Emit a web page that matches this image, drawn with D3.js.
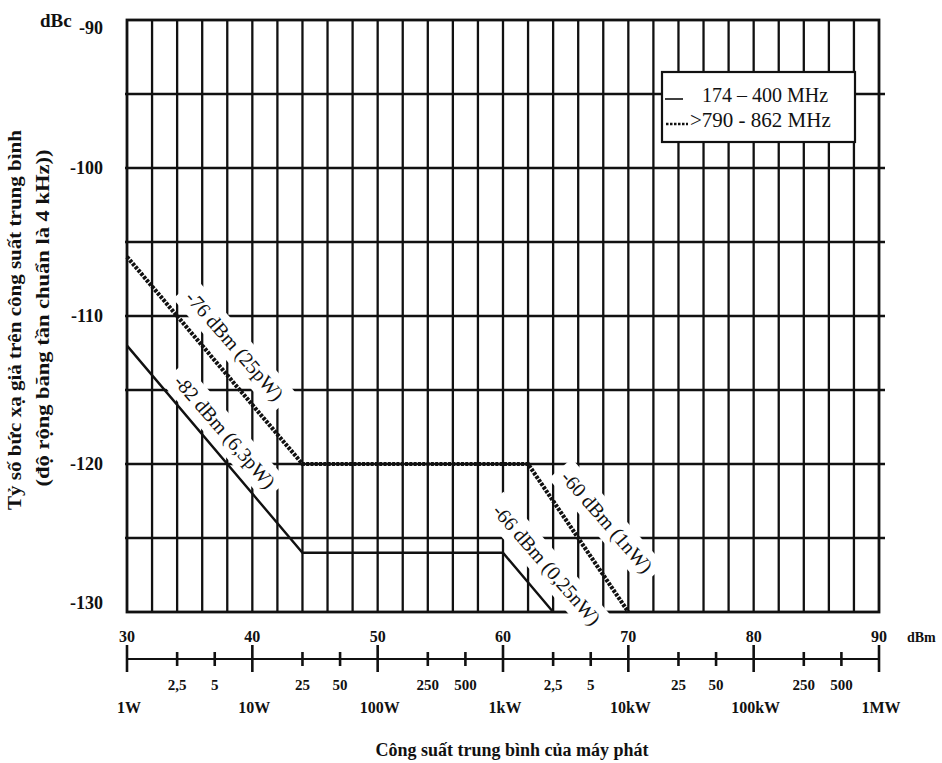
<!DOCTYPE html>
<html><head><meta charset="utf-8">
<script src="https://cdn.jsdelivr.net/npm/d3@7"></script>
<style>
body{margin:0;background:#fff}
text{font-family:"Liberation Serif","Times New Roman",serif;fill:#111}
</style>
</head><body>
<svg id="c" width="942" height="763"></svg>
<script>
// ---- data ----
const xTickValues = [30, 40, 50, 60, 70, 80, 90];
const yTickValues = [-90, -100, -110, -120, -130];
const powerTickDbm = [34, 37, 44, 47, 54, 57, 64, 67, 74, 77, 84, 87];
const powerTickLabels = ["2,5", "5", "25", "50", "250", "500", "2,5", "5", "25", "50", "250", "500"];
const decadeLabels = ["1W", "10W", "100W", "1kW", "10kW", "100kW", "1MW"];
const seriesNames = ["174 – 400 MHz", ">790 - 862 MHz"];
const vhfDbm = [30, 44, 60, 64];
const vhfDbc = [-112, -126, -126, -130];
const uhfDbm = [30, 44, 62, 70];
const uhfDbc = [-106, -120, -120, -130];
const limitLabels = ["-76 dBm (25pW)", "-82 dBm (6,3pW)", "-60 dBm (1nW)", "-66 dBm (0,25nW)"];
const limitLabelDbm = [38.6, 37.8, 68.3, 63.5];
const limitLabelDbc = [-112.0, -117.8, -123.9, -126.8];

// ---- layout ----
const svg = d3.select("#c");
const L = 127, R = 879, T = 20, B = 612;
const x = d3.scaleLinear().domain([30, 90]).range([L, R]);
const y = d3.scaleLinear().domain([-90, -130]).range([T, B]);
const ink = "#111";

// grid
const grid = svg.append("g");
grid.selectAll("line.v").data(d3.range(32, 90, 2)).join("line")
  .attr("x1", d => x(d)).attr("x2", d => x(d)).attr("y1", T).attr("y2", B)
  .attr("stroke", ink).attr("stroke-width", 2.3);
grid.selectAll("line.h").data(d3.range(-95, -129, -5)).join("line")
  .attr("x1", L - 2).attr("x2", R + 6).attr("y1", d => y(d)).attr("y2", d => y(d))
  .attr("stroke", ink).attr("stroke-width", 2.3);
// frame
svg.append("rect").attr("x", L).attr("y", T).attr("width", R - L).attr("height", B - T)
  .attr("fill", "none").attr("stroke", ink).attr("stroke-width", 2.8);

// label backgrounds + labels
const bgLayer = svg.append("g");
const lineLayer = svg.append("g");
const labLayer = svg.append("g");
limitLabels.forEach((t, i) => {
  const tr = `translate(${x(limitLabelDbm[i])},${y(limitLabelDbc[i])}) rotate(49)`;
  const g = labLayer.append("g").attr("transform", tr);
  const tx = g.append("text").attr("text-anchor", "middle").attr("dy", "0.35em")
    .attr("font-size", 20).text(t);
  const bb = tx.node().getBBox();
  bgLayer.append("rect").attr("transform", tr)
    .attr("x", bb.x - 7).attr("y", bb.y - 4).attr("width", bb.width + 14).attr("height", bb.height + 8)
    .attr("fill", "#fff");
});

// series
const lineGen = d3.line().x(d => x(d[0])).y(d => y(d[1]));
lineLayer.append("path").datum(d3.zip(vhfDbm, vhfDbc)).attr("d", lineGen)
  .attr("fill", "none").attr("stroke", ink).attr("stroke-width", 2.4);
lineLayer.append("path").datum(d3.zip(uhfDbm, uhfDbc)).attr("d", lineGen)
  .attr("fill", "none").attr("stroke", ink).attr("stroke-width", 4.2)
  .attr("stroke-dasharray", "3 1.3");

// legend
const lg = svg.append("g");
lg.append("rect").attr("x", 662).attr("y", 72).attr("width", 193).attr("height", 70)
  .attr("fill", "#fff").attr("stroke", ink).attr("stroke-width", 2.2);
lg.append("line").attr("x1", 665).attr("x2", 683).attr("y1", 99).attr("y2", 99)
  .attr("stroke", ink).attr("stroke-width", 1.6);
lg.append("text").attr("x", 702).attr("y", 102).attr("font-size", 20).text(seriesNames[0]);
lg.append("line").attr("x1", 666).attr("x2", 688).attr("y1", 124).attr("y2", 124)
  .attr("stroke", ink).attr("stroke-width", 2.6).attr("stroke-dasharray", "2.5 1.5");
lg.append("text").attr("x", 690).attr("y", 127).attr("font-size", 21).text(seriesNames[1]);

// y axis labels
const yAx = svg.append("g").attr("transform", `translate(${L - 24},0)`)
  .call(d3.axisLeft(y).tickValues(yTickValues).tickSize(0).tickPadding(0).tickFormat(d => String(d)));
yAx.select(".domain").remove();
yAx.selectAll("text").attr("font-size", 18).attr("font-weight", "bold")
  .attr("font-family", "Liberation Serif, serif").attr("fill", ink)
  .attr("y", d => d === -90 ? 8 : d === -130 ? -9 : 0);
svg.append("text").attr("x", 40).attr("y", 27).attr("font-size", 19).attr("font-weight", "bold").text("dBc");

// y title
const yt = svg.append("g");
yt.append("text").attr("transform", "translate(21,320) rotate(-90)").attr("text-anchor", "middle")
  .attr("font-size", 18).attr("font-weight", "bold").attr("textLength", 380)
  .attr("lengthAdjust", "spacingAndGlyphs").text("Tỷ số bức xạ giả trên công suất trung bình");
yt.append("text").attr("transform", "translate(49,318) rotate(-90)").attr("text-anchor", "middle")
  .attr("font-size", 18).attr("font-weight", "bold").attr("textLength", 337)
  .attr("lengthAdjust", "spacingAndGlyphs").text("(độ rộng băng tần chuẩn là 4 kHz))");

// bottom dBm labels
svg.append("g").selectAll("text").data(xTickValues).join("text")
  .attr("x", d => x(d)).attr("y", 642).attr("text-anchor", "middle")
  .attr("font-size", 16).attr("font-weight", "bold").text(d => d);
svg.append("text").attr("x", 907).attr("y", 642).attr("font-size", 14).attr("font-weight", "bold").text("dBm");

// power axis
const pAx = svg.append("g").attr("transform", "translate(0,659)");
pAx.append("line").attr("x1", x(30)).attr("x2", x(90)).attr("stroke", ink).attr("stroke-width", 2);
pAx.selectAll("line.maj").data(xTickValues).join("line")
  .attr("x1", d => x(d)).attr("x2", d => x(d)).attr("y1", -14).attr("y2", 13)
  .attr("stroke", ink).attr("stroke-width", 2.6);
pAx.selectAll("line.min").data(powerTickDbm).join("line")
  .attr("x1", d => x(d)).attr("x2", d => x(d)).attr("y1", -7).attr("y2", 7)
  .attr("stroke", ink).attr("stroke-width", 2.6);
svg.append("g").selectAll("text").data(powerTickDbm).join("text")
  .attr("x", d => x(d)).attr("y", 690).attr("text-anchor", "middle")
  .attr("font-size", 15).attr("font-weight", "bold").text((d, i) => powerTickLabels[i]);
svg.append("g").selectAll("text").data(xTickValues).join("text")
  .attr("x", d => x(d) + 2).attr("y", 713).attr("text-anchor", "middle")
  .attr("font-size", 16).attr("font-weight", "bold").text((d, i) => decadeLabels[i]);

// x title
svg.append("text").attr("x", 512).attr("y", 756).attr("text-anchor", "middle")
  .attr("font-size", 18).attr("font-weight", "bold").text("Công suất trung bình của máy phát");
</script>
</body></html>
